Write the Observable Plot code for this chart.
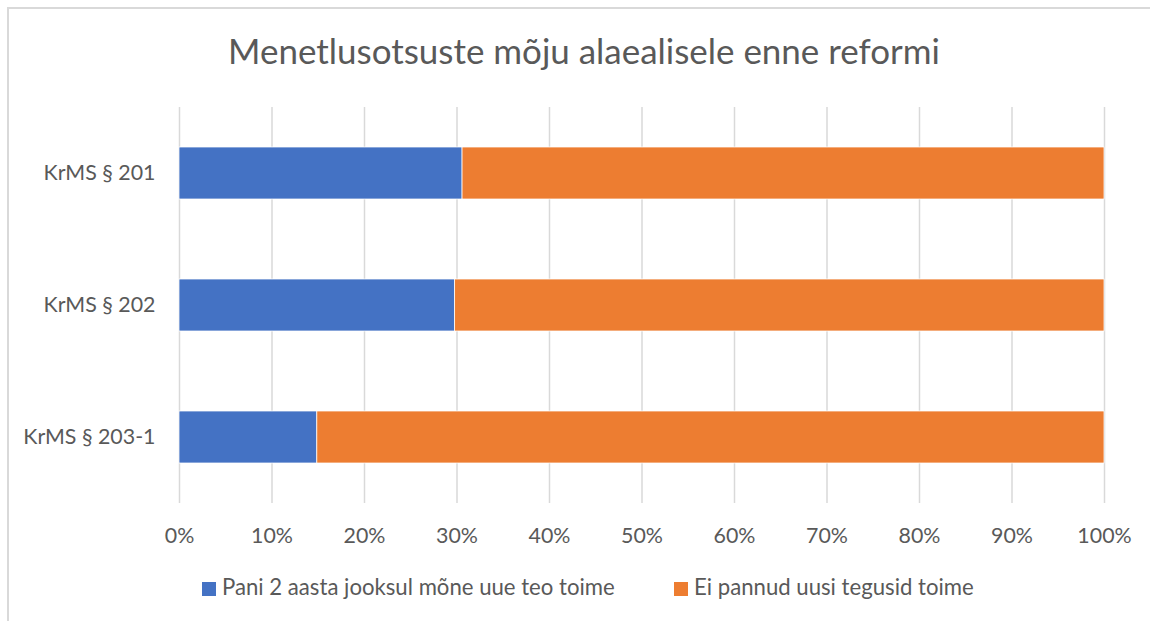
<!DOCTYPE html>
<html>
<head>
<meta charset="utf-8">
<script src="https://cdn.jsdelivr.net/npm/d3@7"></script>
<script src="https://cdn.jsdelivr.net/npm/@observablehq/plot@0.6"></script>
<style>
  html, body { margin: 0; padding: 0; background: #fff; }
  #wrap { position: relative; width: 1150px; height: 621px; overflow: hidden; font-family: Lato, sans-serif; color: #595959; }
  #frame { position: absolute; left: 7px; top: 7px; width: 1200px; height: 700px; border-left: 2px solid #d9d9d9; border-top: 2px solid #d9d9d9; }
  #chart { position: absolute; left: 0; top: 0; }
  .txt { position: absolute; white-space: nowrap; line-height: 1; }
  .sw { position: absolute; width: 14px; height: 14px; }
</style>
</head>
<body>
<div id="wrap">
  <div id="frame"></div>
  <div id="chart"></div>
</div>
<script>
const chartTitle = "Menetlusotsuste mõju alaealisele enne reformi";
const categories = ["KrMS § 201", "KrMS § 202", "KrMS § 203-1"];
const seriesNames = ["Pani 2 aasta jooksul mõne uue teo toime", "Ei pannud uusi tegusid toime"];
const paniValues = [30.6, 29.8, 14.9];
const eiPannudValues = [69.4, 70.2, 85.1];
const xTicks = [0, 10, 20, 30, 40, 50, 60, 70, 80, 90, 100];
const seriesColors = ["#4472C4", "#ED7D31"];

const rows = [];
categories.forEach((c, i) => {
  rows.push({category: c, series: seriesNames[0], value: paniValues[i]});
  rows.push({category: c, series: seriesNames[1], value: eiPannudValues[i]});
});

const ctx = document.createElement("canvas").getContext("2d");
function fitSize(text, target) {
  ctx.font = "400 100px Lato";
  return 100 * target / ctx.measureText(text).width;
}
const tickFs = fitSize(categories[0], 112);
const titleFs = fitSize(chartTitle, 712);
const legendFs = fitSize(seriesNames[0], 393);

const wrap = document.getElementById("wrap");
function addText(text, fs, left, baseline, anchor) {
  const d = document.createElement("div");
  d.className = "txt";
  d.textContent = text;
  d.style.fontSize = fs + "px";
  d.style.top = (baseline - 0.887 * fs) + "px";
  if (anchor === "middle") { d.style.left = left + "px"; d.style.transform = "translateX(-50%)"; }
  else d.style.left = left + "px";
  wrap.appendChild(d);
  return d;
}

const plot = Plot.plot({
  width: 1150,
  height: 560,
  marginLeft: 179,
  marginRight: 46,
  marginTop: 107,
  marginBottom: 57,
  style: {fontFamily: "Lato, sans-serif", fontSize: tickFs + "px", color: "#595959", background: "transparent"},
  x: {domain: [0, 100], label: null},
  y: {domain: categories, paddingInner: 0.606, paddingOuter: 0.303, label: null},
  color: {domain: seriesNames, range: seriesColors},
  marks: [
    Plot.gridX(xTicks, {stroke: "#d9d9d9", strokeOpacity: 1, strokeWidth: 1.5}),
    Plot.barX(rows, {x: "value", y: "category", fill: "series", stroke: "white", strokeWidth: 0.75, insetTop: 0, insetBottom: 0}),
    Plot.axisX({ticks: xTicks, tickSize: 0, tickPadding: 24, tickFormat: d => d + "%", label: null}),
    Plot.axisY({tickSize: 0, tickPadding: 24, label: null})
  ]
});
document.getElementById("chart").appendChild(plot);

addText(chartTitle, titleFs, 584, 64, "middle");

const legendLefts = [202, 674];
const legendTextLefts = [222, 694];
seriesNames.forEach((s, i) => {
  const sw = document.createElement("div");
  sw.className = "sw";
  sw.style.left = legendLefts[i] + "px";
  sw.style.top = "582px";
  sw.style.background = seriesColors[i];
  wrap.appendChild(sw);
  addText(s, legendFs, legendTextLefts[i], 596, "start");
});
</script>
</body>
</html>
